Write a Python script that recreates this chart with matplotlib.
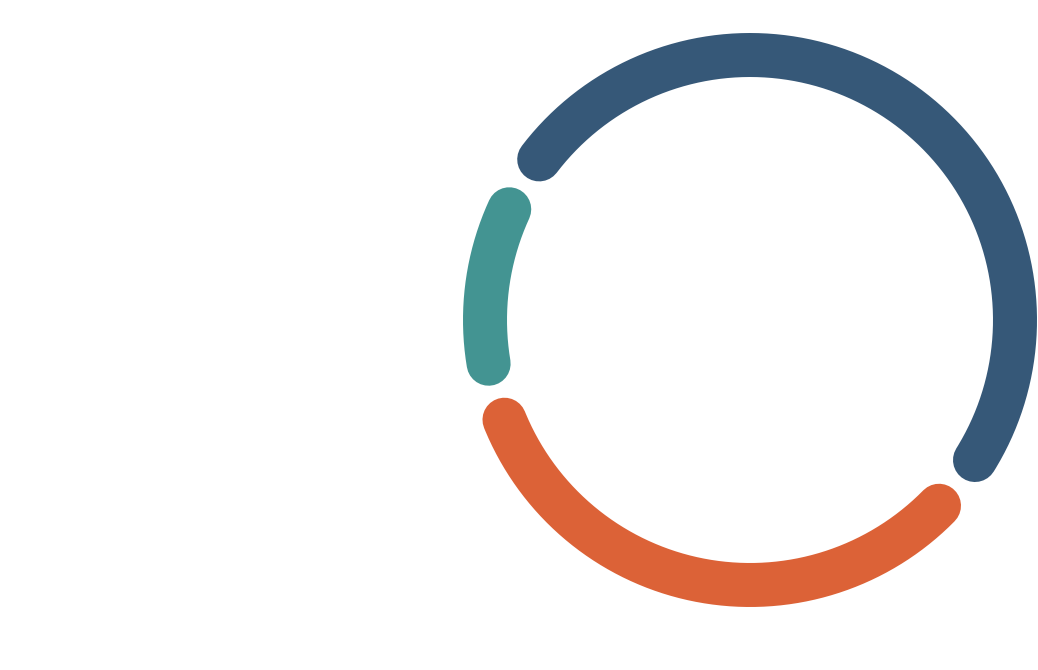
import numpy as np
import matplotlib.pyplot as plt

# Segment shares of the ring
labels = ['A', 'B', 'C']
values = [52, 35, 13]
colors = ['#365878', '#dc6237', '#439492']

# Ring geometry (pixels) and angular gap between segments
center = (750, 320)
radius = 265
ring_width = 44
gap_deg = 12.6
start_deg = 149.0

fig = plt.figure(figsize=(10.38, 6.70), dpi=100)
ax = fig.add_axes([0, 0, 1, 1])
ax.set_xlim(0, 1038)
ax.set_ylim(670, 0)
ax.set_aspect('equal')
ax.axis('off')

lw = ring_width * 72 / fig.dpi
total = sum(values)
angle = start_deg
for label, val, col in zip(labels, values, colors):
    span = val / total * 360
    a0 = np.radians(angle - gap_deg / 2)
    a1 = np.radians(angle - span + gap_deg / 2)
    t = np.linspace(a0, a1, 200)
    x = center[0] + radius * np.cos(t)
    y = center[1] - radius * np.sin(t)
    ax.plot(x, y, color=col, lw=lw, solid_capstyle='round', label=label)
    angle -= span

fig.savefig('out.png', dpi=100)
